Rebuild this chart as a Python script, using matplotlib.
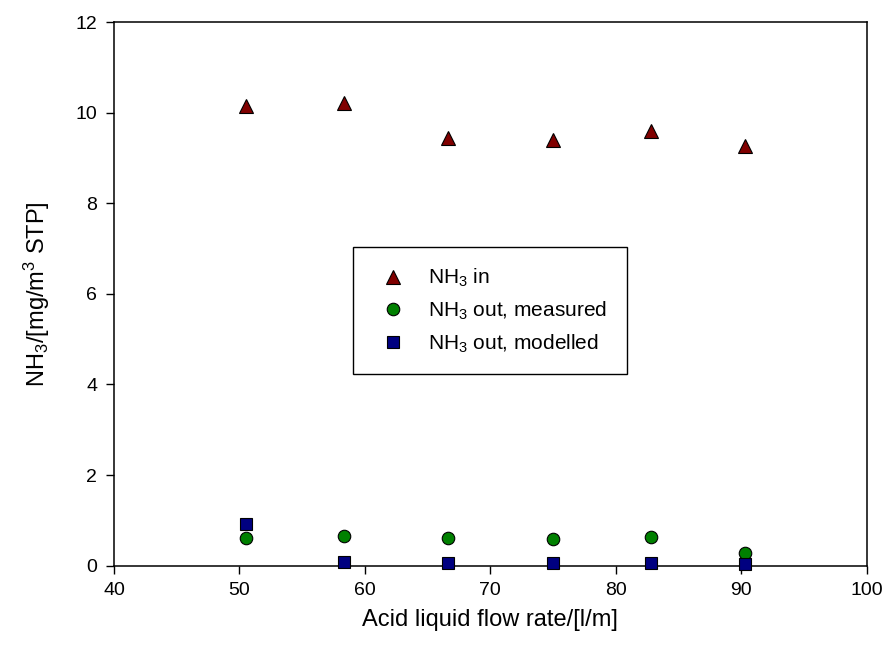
import matplotlib
matplotlib.use("Agg")
import matplotlib.pyplot as plt

plt.rcParams['font.family'] = ['Liberation Sans', 'DejaVu Sans']
plt.rcParams['mathtext.default'] = 'regular'

# Acid liquid flow rate [l/m]
flow = [50.5, 58.3, 66.6, 75.0, 82.8, 90.3]

# NH3 concentrations [mg/m3 STP]
nh3_in = [10.14, 10.22, 9.45, 9.40, 9.60, 9.27]
nh3_out_measured = [0.62, 0.65, 0.60, 0.58, 0.63, 0.28]
nh3_out_modelled = [0.91, 0.09, 0.07, 0.06, 0.06, 0.04]

xticks = [40, 50, 60, 70, 80, 90, 100]
yticks = [0, 2, 4, 6, 8, 10, 12]

fig = plt.figure(figsize=(8.88, 6.57), dpi=100)
ax = fig.add_axes([0.1284, 0.139, 0.8476, 0.8274])

ax.plot(flow, nh3_in, linestyle='none', marker='^', markersize=10,
        markerfacecolor='#800000', markeredgecolor='black', markeredgewidth=0.8,
        label='NH$_3$ in', clip_on=False, zorder=3)
ax.plot(flow, nh3_out_measured, linestyle='none', marker='o', markersize=9,
        markerfacecolor='#008000', markeredgecolor='black', markeredgewidth=0.8,
        label='NH$_3$ out, measured', clip_on=False, zorder=3)
ax.plot(flow, nh3_out_modelled, linestyle='none', marker='s', markersize=8.5,
        markerfacecolor='#000080', markeredgecolor='black', markeredgewidth=0.8,
        label='NH$_3$ out, modelled', clip_on=False, zorder=4)

ax.set_xlim(40, 100)
ax.set_ylim(0, 12)
ax.set_xticks(xticks)
ax.set_yticks(yticks)
ax.tick_params(direction='out', length=6, width=1, labelsize=14, pad=6,
               top=False, right=False)
for s in ax.spines.values():
    s.set_linewidth(1.1)

ax.set_xlabel('Acid liquid flow rate/[l/m]', fontsize=17, labelpad=7)
ax.set_ylabel('NH$_3$/[mg/m$^3$ STP]', fontsize=17, labelpad=17)

leg = ax.legend(loc='upper left', bbox_to_anchor=(0.3175, 0.586), fontsize=15,
                frameon=True, fancybox=False, framealpha=1, edgecolor='black',
                borderpad=0.95, labelspacing=0.5, handletextpad=0.71,
                handlelength=1.94, borderaxespad=0)
leg.get_frame().set_linewidth(1.0)

fig.savefig('out.png', dpi=100)
